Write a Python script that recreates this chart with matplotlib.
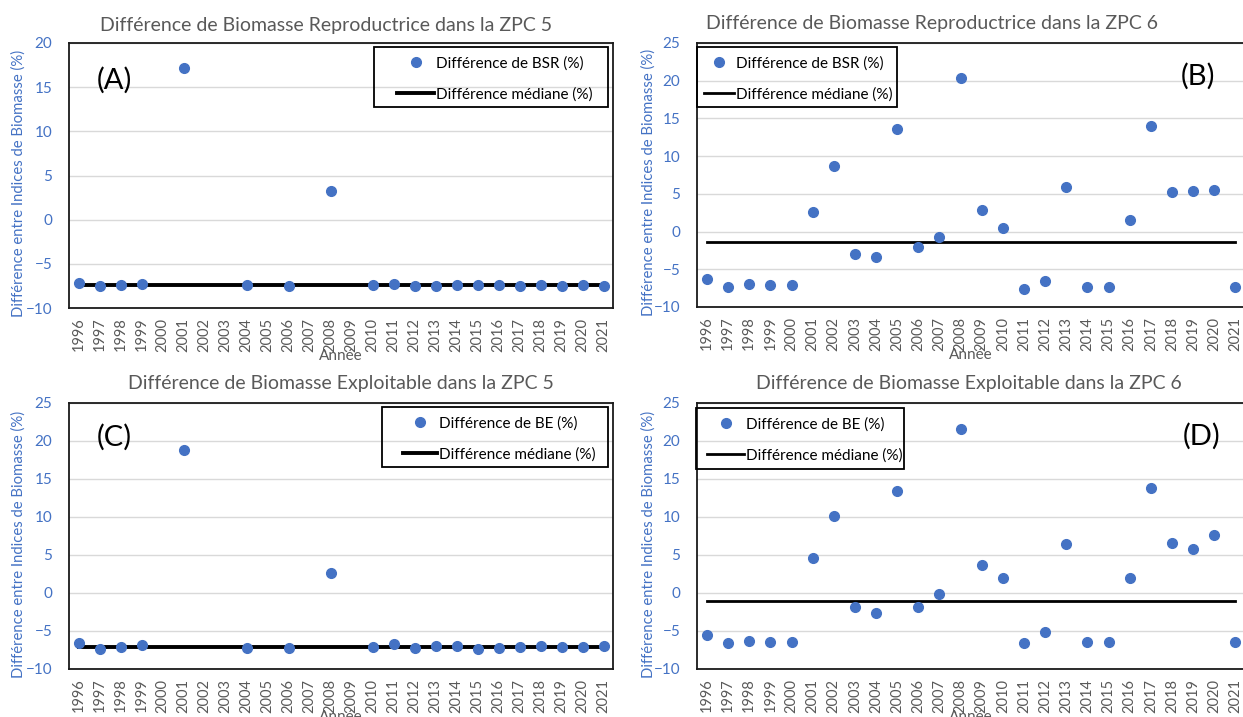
import numpy as np
import matplotlib
matplotlib.use('Agg')
import matplotlib.pyplot as plt
from matplotlib.patches import Rectangle
from matplotlib.lines import Line2D

plt.rcParams['font.family'] = ['Lato', 'DejaVu Sans']

nan = np.nan
years = ['1996', '1997', '1998', '1999', '2000', '2001', '2002', '2003', '2004',
         '2005', '2006', '2007', '2008', '2009', '2010', '2011', '2012', '2013',
         '2014', '2015', '2016', '2017', '2018', '2019', '2020', '2021']

# differences (%)
bsr_zpc5 = [-7.21, -7.47, -7.39, -7.32, nan, 17.13, nan, nan, -7.43, nan, -7.47, nan,
            3.22, nan, -7.39, -7.32, -7.51, -7.51, -7.43, -7.43, -7.39, -7.54, -7.36,
            -7.47, -7.43, -7.54]
bsr_zpc6 = [-6.30, -7.36, -7.01, -7.10, -7.10, 2.56, 8.73, -3.00, -3.31, 13.62, -1.98,
            -0.66, 20.41, 2.91, 0.48, -7.58, -6.52, 5.86, -7.32, -7.36, 1.50, 14.06,
            5.20, 5.38, 5.51, -7.41]
be_zpc5 = [-6.62, -7.32, -7.06, -6.89, nan, 18.82, nan, nan, -7.28, nan, -7.28, nan,
           2.68, nan, -7.06, -6.75, -7.24, -6.93, -7.02, -7.32, -7.19, -7.11, -7.02,
           -7.15, -7.11, -6.93]
be_zpc6 = [-5.48, -6.58, -6.32, -6.45, -6.40, 4.61, 10.13, -1.89, -2.68, 13.46, -1.80,
           -0.18, 21.62, 3.73, 1.93, -6.62, -5.13, 6.49, -6.45, -6.45, 1.93, 13.86,
           6.58, 5.79, 7.59, -6.45]

titles = ['Différence de Biomasse Reproductrice dans la ZPC 5',
          'Différence de Biomasse Reproductrice dans la ZPC 6',
          'Différence de Biomasse Exploitable dans la ZPC 5',
          'Différence de Biomasse Exploitable dans la ZPC 6']
letters = ['(A)', '(B)', '(C)', '(D)']
series_labels = ['Différence de BSR (%)', 'Différence de BSR (%)',
                 'Différence de BE (%)', 'Différence de BE (%)']
median_label = 'Différence médiane (%)'

BLUE = '#4472C4'
GREY = '#595959'
W, H = 1243, 717

fig = plt.figure(figsize=(W / 100, H / 100), dpi=100)
fig.patch.set_facecolor('white')


def fx(x):
    return x / W


def fy(y):
    return 1 - y / H


# pixel layout of each panel (l, t, r, b), title pos, letter pos, legend box, legend anchor, handle px, line width
layout = [
    dict(rect=(69, 43, 613, 308), ylim=(-10, 20), title=(326, 25), letter=(114, 80),
         box=(374, 47, 608, 107), anchor=(397, 56), hl=37, lw=2.8, ylx=26),
    dict(rect=(697, 43, 1245, 307), ylim=(-10, 25), title=(932, 23), letter=(1198, 76),
         box=(697, 47, 897, 107), anchor=(704, 56), hl=30, lw=2.0, ylx=656),
    dict(rect=(69, 403, 613, 669), ylim=(-10, 25), title=(341, 384), letter=(114, 437),
         box=(382, 407, 608, 467), anchor=(403, 416), hl=34, lw=2.8, ylx=26),
    dict(rect=(697, 403, 1245, 669), ylim=(-10, 25), title=(969, 384), letter=(1202, 436),
         box=(696, 408, 904, 469), anchor=(707, 417), hl=37, lw=2.0, ylx=656),
]
data = [bsr_zpc5, bsr_zpc6, be_zpc5, be_zpc6]

fs_leg = 11
em = fs_leg * 100 / 72

for i, (vals, cfg) in enumerate(zip(data, layout)):
    l, t, r, b = cfg['rect']
    ax = fig.add_axes([fx(l), fy(b), fx(r - l), (b - t) / H])
    med = np.nanmedian(vals)

    ax.plot(years, vals, 'o', color=BLUE, ms=7, zorder=3)
    ax.plot([years[0], years[-1]], [med, med], color='black', lw=cfg['lw'], zorder=2)

    ax.set_xlim(-0.47, 25.45)
    ax.set_ylim(*cfg['ylim'])
    ax.set_yticks(np.arange(cfg['ylim'][0], cfg['ylim'][1] + 1, 5))
    ax.yaxis.grid(True, color='#D9D9D9', lw=1.0)
    ax.set_axisbelow(True)
    ax.tick_params(axis='x', length=0, pad=7, labelsize=10.5, labelcolor=GREY, rotation=90)
    ax.tick_params(axis='y', length=0, pad=12, labelsize=11, labelcolor=BLUE)
    for s in ax.spines.values():
        s.set_color('#1a1a1a')
        s.set_linewidth(1.3)

    ax.set_ylabel('Différence entre Indices de Biomasse (%)', color=BLUE, fontsize=10.7)
    ax.yaxis.set_label_coords((cfg['ylx'] - l) / (r - l), 0.47)
    ax.set_xlabel('Année', color=GREY, fontsize=11, labelpad=-2)

    fig.text(fx(cfg['title'][0]), fy(cfg['title'][1]), titles[i], ha='center', va='center',
             fontsize=14, color=GREY)
    fig.text(fx(cfg['letter'][0]), fy(cfg['letter'][1]), letters[i], ha='center', va='center',
             fontsize=21, color='black')

    handles = [Line2D([], [], ls='none', marker='o', color=BLUE, ms=7),
               Line2D([], [], color='black', lw=cfg['lw'])]
    leg = ax.legend(handles, [series_labels[i], median_label], loc='upper left',
                    bbox_to_anchor=(fx(cfg['anchor'][0]), fy(cfg['anchor'][1])),
                    bbox_transform=fig.transFigure, frameon=False, fontsize=fs_leg,
                    borderpad=0, borderaxespad=0, handlelength=cfg['hl'] / em,
                    handletextpad=0.15, labelspacing=1.1)
    for txt in leg.get_texts():
        txt.set_color('black')

    bl, bt, br, bb = cfg['box']
    fig.add_artist(Rectangle((fx(bl), fy(bb)), fx(br - bl), (bb - bt) / H,
                             transform=fig.transFigure, facecolor='none',
                             edgecolor='black', lw=1.3, zorder=5))

fig.savefig('out.png', dpi=100)
